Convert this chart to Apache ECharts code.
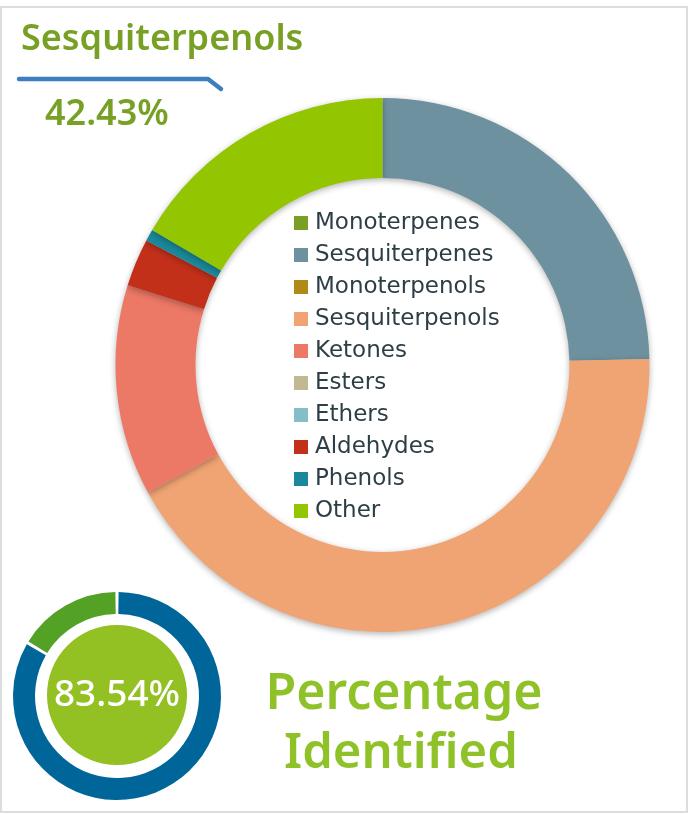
<!DOCTYPE html>
<html>
<head>
<meta charset="utf-8">
<script src="https://cdn.jsdelivr.net/npm/echarts@6/dist/echarts.min.js"></script>
<style>
  html, body { margin: 0; padding: 0; background: #fff; }
  #chart { width: 694px; height: 815px; }
</style>
</head>
<body>
<div id="chart"></div>
<script>
// composition of the oil, % of identified compounds
const categories = ['Monoterpenes', 'Sesquiterpenes', 'Monoterpenols', 'Sesquiterpenols', 'Ketones',
  'Esters', 'Ethers', 'Aldehydes', 'Phenols', 'Other']
const shares = [0, 24.64, 0, 42.43, 12.75, 0, 0, 2.9, 0.72, 16.56]
const palette = ['#7a9f27', '#6e91a0', '#b08a17', '#f0a473', '#ec7866',
  '#c2b894', '#84bec7', '#c3301a', '#1a889a', '#93c500']

// highlighted class
const featured = 'Sesquiterpenols'

// percentage identified
const identifiedLabels = ['Identified', 'Unidentified']
const identifiedValues = [83.54, 16.46]

const featuredValue = shares[categories.indexOf(featured)]
const font = '"Noto Sans", sans-serif'

const chart = echarts.init(document.getElementById('chart'))
chart.setOption({
  animation: false,
  legend: {
    data: categories,
    orient: 'vertical',
    left: 289,
    top: 206,
    icon: 'rect',
    itemWidth: 14,
    itemHeight: 14,
    itemGap: 8,
    selectedMode: false,
    textStyle: {
      fontFamily: '"DejaVu Sans", sans-serif',
      fontSize: 23,
      lineHeight: 24,
      color: '#2d3e46',
      padding: [0, 0, 0, 2],
    },
  },
  graphic: [
    {
      type: 'rect',
      silent: true,
      shape: { x: 1, y: 7, width: 686, height: 805 },
      style: { fill: 'none', stroke: '#dddddd', lineWidth: 2 },
    },
    {
      type: 'text',
      left: 21,
      top: 22,
      style: {
        text: featured,
        font: '600 36px ' + font,
        fill: '#77a025',
      },
    },
    {
      type: 'polyline',
      silent: true,
      shape: { points: [[19, 79], [208, 79], [221, 89]] },
      style: { stroke: '#3d7ec0', lineWidth: 4.5, lineCap: 'round', lineJoin: 'round', fill: 'none' },
    },
    {
      type: 'text',
      left: 45,
      top: 97,
      style: {
        text: featuredValue.toFixed(2) + '%',
        font: '600 36px ' + font,
        fill: '#77a025',
      },
    },
    {
      type: 'text',
      x: 404,
      y: 695,
      style: {
        text: 'Percentage',
        font: '600 50px ' + font,
        fill: '#8fc228',
        align: 'center',
        verticalAlign: 'middle',
      },
    },
    {
      type: 'text',
      x: 401,
      y: 754,
      style: {
        text: 'Identified',
        font: '600 49px ' + font,
        fill: '#8fc228',
        align: 'center',
        verticalAlign: 'middle',
      },
    },
  ],
  series: [
    {
      name: 'Composition',
      type: 'pie',
      center: [382.5, 365],
      radius: [187, 267],
      startAngle: 90,
      clockwise: true,
      label: { show: false },
      labelLine: { show: false },
      emphasis: { disabled: true },
      itemStyle: {
        shadowBlur: 6,
        shadowColor: 'rgba(0,0,0,0.3)',
        shadowOffsetY: 2,
      },
      data: categories.map((name, i) => ({
        name,
        value: shares[i],
        itemStyle: { color: palette[i] },
      })),
    },
    {
      name: 'Identified ring',
      type: 'pie',
      center: [117, 696],
      radius: [82, 104],
      startAngle: 90,
      padAngle: 1.8,
      silent: true,
      label: { show: false },
      labelLine: { show: false },
      data: identifiedLabels.map((name, i) => ({
        name,
        value: identifiedValues[i],
        itemStyle: { color: i === 0 ? '#006699' : '#53a125' },
      })),
    },
    {
      name: 'Identified core',
      type: 'pie',
      center: [117, 695],
      radius: [0, 70],
      silent: true,
      labelLine: { show: false },
      label: {
        show: true,
        position: 'center',
        formatter: identifiedValues[0].toFixed(2) + '%',
        fontFamily: font,
        fontWeight: 500,
        fontSize: 37,
        color: '#ffffff',
      },
      data: [{ name: identifiedLabels[0], value: identifiedValues[0], itemStyle: { color: '#93c022' } }],
    },
  ],
})
</script>
</body>
</html>
